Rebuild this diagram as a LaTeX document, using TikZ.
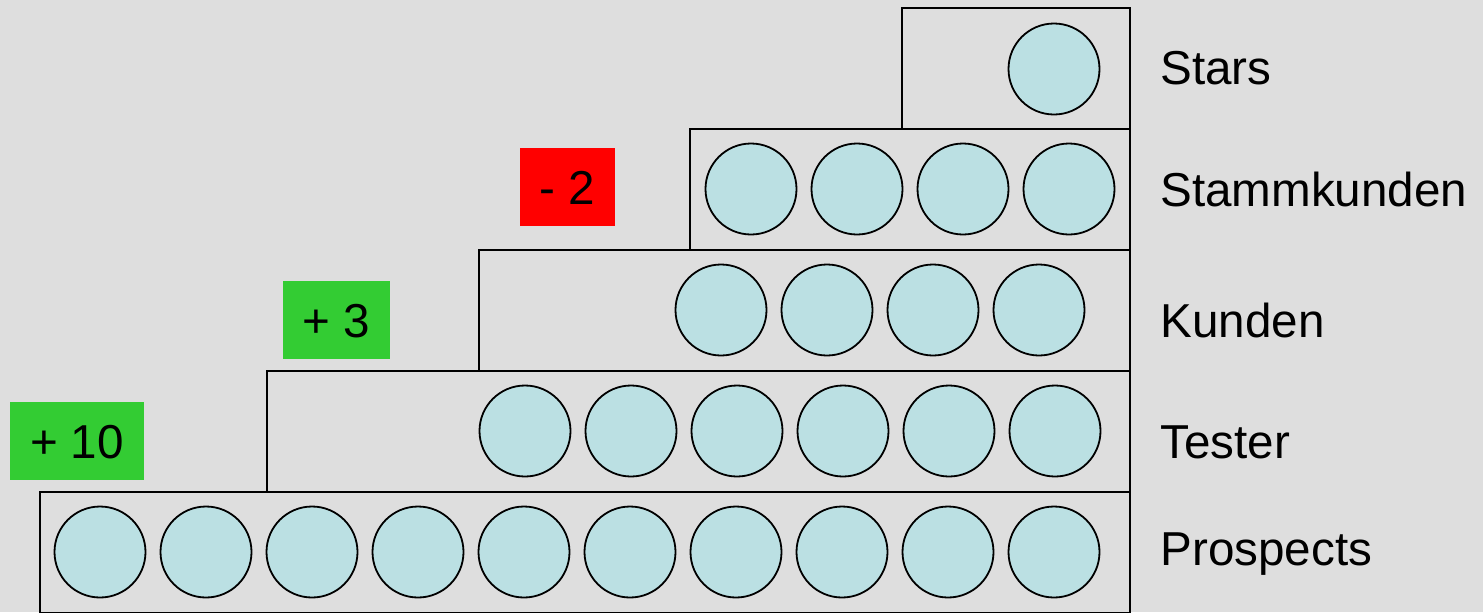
\documentclass[tikz,border=0pt]{standalone}
\usepackage{fontspec}
\setmainfont{Liberation Sans}
\usetikzlibrary{positioning}
\definecolor{hgrau}{HTML}{DEDEDE}
\definecolor{kreisblau}{HTML}{BBE0E3}
\definecolor{plusgruen}{HTML}{33CC33}
\definecolor{minusrot}{HTML}{FF0000}

\begin{document}
\begin{tikzpicture}[
  x=0.5pt, y=-0.5pt,
  stufe/.style={rectangle, draw=black, line width=1pt, minimum height=60.5pt,
                inner sep=0pt, outer sep=0pt, anchor=north east},
  kunde/.style={circle, draw=black, fill=kreisblau, line width=0.9pt,
                minimum size=45.5pt, inner sep=0pt, outer sep=0pt},
  stufename/.style={anchor=base west, inner sep=0pt, font=\fontsize{23.8}{28}\selectfont},
  delta/.style={rectangle, inner sep=0pt, minimum height=38.75pt,
                text height=17pt, text depth=0pt, font=\fontsize{23.8}{28}\selectfont},
  node distance=7.5pt,
]
  \useasboundingbox (0,0) rectangle (1483,612);
  \fill[hgrau] (0,0) rectangle (1483,612);

  \node[stufe, minimum width=545pt] (prospects) at (1130,492) {};
  \node[stufe, minimum width=431.5pt] (tester) at (1130,371) {};
  \node[stufe, minimum width=325.5pt] (kunden) at (1130,250) {};
  \node[stufe, minimum width=220pt] (stammkunden) at (1130,129) {};
  \node[stufe, minimum width=114pt] (stars) at (1130,8) {};

  \node[kunde] (s1) at (1054,69) {};

  \node[kunde] (sk1) at (751,189) {};
  \node[kunde, right=of sk1] (sk2) {};
  \node[kunde, right=of sk2] (sk3) {};
  \node[kunde, right=of sk3] (sk4) {};

  \node[kunde] (k1) at (721,310) {};
  \node[kunde, right=of k1] (k2) {};
  \node[kunde, right=of k2] (k3) {};
  \node[kunde, right=of k3] (k4) {};

  \node[kunde] (t1) at (525,431) {};
  \node[kunde, right=of t1] (t2) {};
  \node[kunde, right=of t2] (t3) {};
  \node[kunde, right=of t3] (t4) {};
  \node[kunde, right=of t4] (t5) {};
  \node[kunde, right=of t5] (t6) {};

  \node[kunde] (p1) at (100,552) {};
  \node[kunde, right=of p1] (p2) {};
  \node[kunde, right=of p2] (p3) {};
  \node[kunde, right=of p3] (p4) {};
  \node[kunde, right=of p4] (p5) {};
  \node[kunde, right=of p5] (p6) {};
  \node[kunde, right=of p6] (p7) {};
  \node[kunde, right=of p7] (p8) {};
  \node[kunde, right=of p8] (p9) {};
  \node[kunde, right=of p9] (p10) {};

  \node[stufename] (lstars) at (1160,84) {Stars};
  \node[stufename] (lstammkunden) at (1160,206) {Stammkunden};
  \node[stufename] (lkunden) at (1160,337) {Kunden};
  \node[stufename] (ltester) at (1160,458) {Tester};
  \node[stufename] (lprospects) at (1160,565) {Prospects};

  \node[delta, fill=minusrot, minimum width=47.5pt] (dstamm) at (567,187) {- 2};
  \node[delta, fill=plusgruen, minimum width=53.5pt] (dkunden) at (336.5,320) {+ 3};
  \node[delta, fill=plusgruen, minimum width=67pt] (dtester) at (77,441) {+ 10};
\end{tikzpicture}
\end{document}
